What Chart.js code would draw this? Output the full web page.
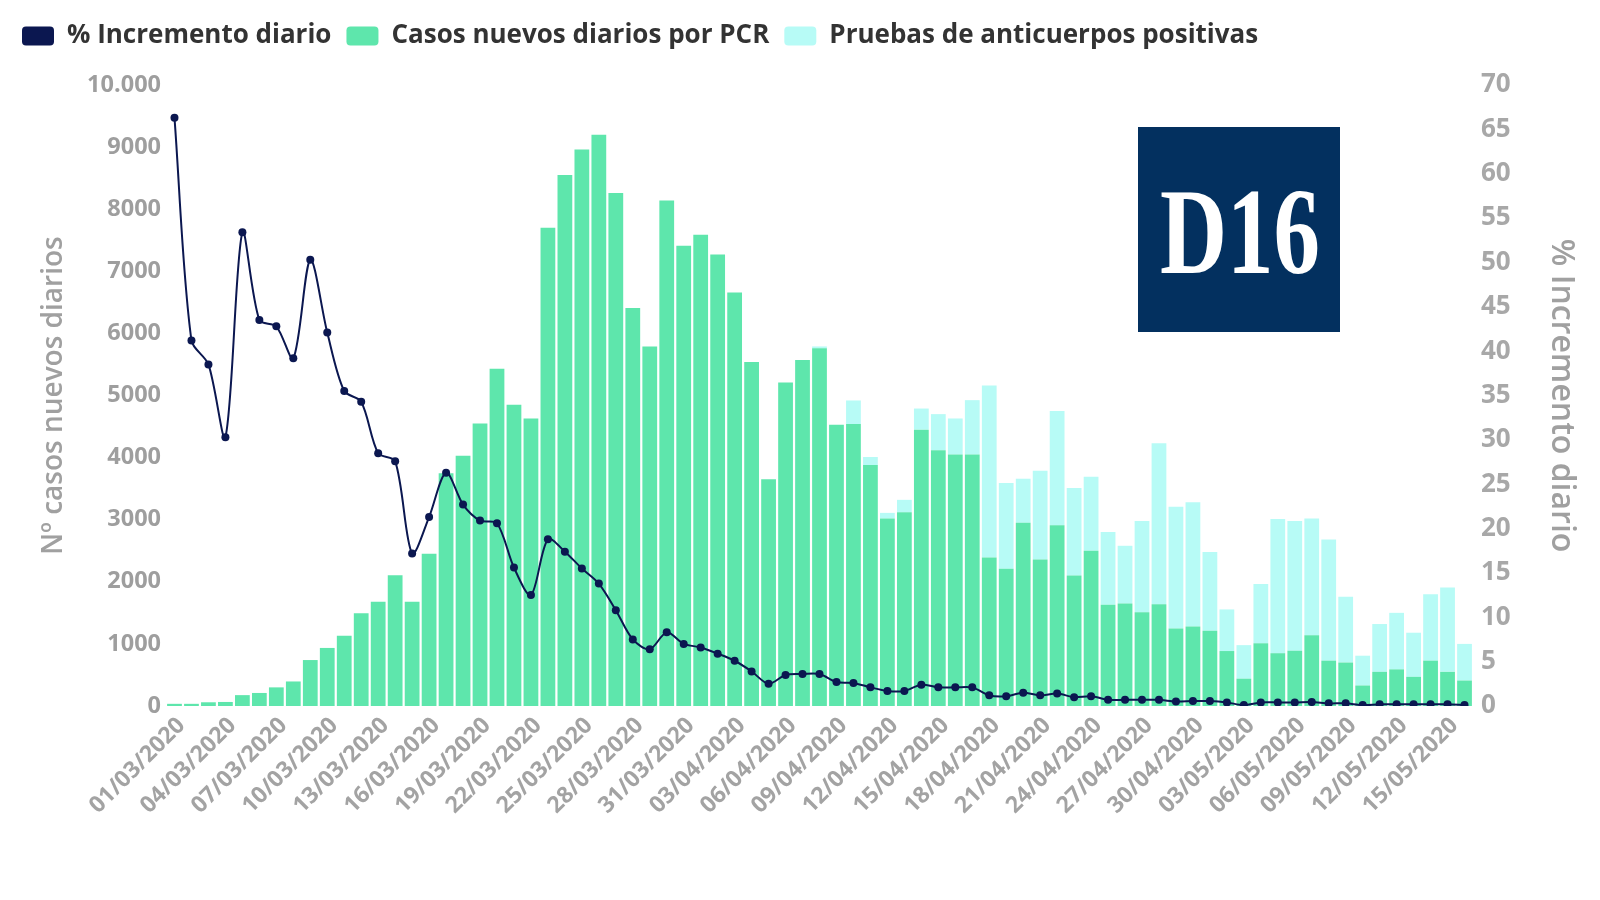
<!DOCTYPE html>
<html><head><meta charset="utf-8">
<script src="https://cdn.jsdelivr.net/npm/chart.js@4.4.1/dist/chart.umd.min.js"></script>
<style>html,body{margin:0;padding:0;background:#fff;}#wrap{width:1600px;height:900px;}</style>
</head><body><div id="wrap"><canvas id="c" width="1600" height="900"></canvas></div>
<script>
const dates = [
'01/03/2020','02/03/2020','03/03/2020','04/03/2020','05/03/2020','06/03/2020','07/03/2020','08/03/2020','09/03/2020','10/03/2020',
'11/03/2020','12/03/2020','13/03/2020','14/03/2020','15/03/2020','16/03/2020','17/03/2020','18/03/2020','19/03/2020','20/03/2020',
'21/03/2020','22/03/2020','23/03/2020','24/03/2020','25/03/2020','26/03/2020','27/03/2020','28/03/2020','29/03/2020','30/03/2020',
'31/03/2020','01/04/2020','02/04/2020','03/04/2020','04/04/2020','05/04/2020','06/04/2020','07/04/2020','08/04/2020','09/04/2020',
'10/04/2020','11/04/2020','12/04/2020','13/04/2020','14/04/2020','15/04/2020','16/04/2020','17/04/2020','18/04/2020','19/04/2020',
'20/04/2020','21/04/2020','22/04/2020','23/04/2020','24/04/2020','25/04/2020','26/04/2020','27/04/2020','28/04/2020','29/04/2020',
'30/04/2020','01/05/2020','02/05/2020','03/05/2020','04/05/2020','05/05/2020','06/05/2020','07/05/2020','08/05/2020','09/05/2020',
'10/05/2020','11/05/2020','12/05/2020','13/05/2020','14/05/2020','15/05/2020','16/05/2020'];

const pcrCases = [
35,35,60,65,175,210,300,395,740,935,
1130,1495,1680,2105,1680,2450,3750,4030,4550,5430,
4850,4630,7700,8550,8960,9200,8260,6410,5790,8140,
7410,7590,7270,6660,5540,3650,5210,5570,5760,4530,
4540,3880,3020,3120,4450,4120,4050,4050,2390,2210,
2950,2360,2910,2100,2500,1630,1650,1510,1640,1250,
1280,1210,885,440,1010,850,890,1140,730,700,
330,550,590,470,730,550,410];

const antibodyCases = [
0,0,0,0,0,0,0,0,0,0,
0,0,0,0,0,0,0,0,0,0,
0,0,0,0,0,0,0,0,0,0,
0,0,0,0,0,0,0,0,30,0,
380,130,90,200,340,580,580,875,2770,1380,
710,1430,1840,1410,1190,1170,930,1470,2590,1960,
2000,1270,670,540,955,2160,2090,1880,1950,1060,
480,770,910,710,1070,1360,590];

const dailyIncreasePct = [
66.3,41.2,38.5,30.3,53.4,43.5,42.8,39.2,50.3,42.1,
35.5,34.3,28.5,27.6,17.2,21.3,26.3,22.7,20.9,20.6,
15.6,12.5,18.8,17.4,15.5,13.8,10.8,7.5,6.4,8.3,
7.0,6.6,5.9,5.1,3.9,2.5,3.5,3.6,3.6,2.7,
2.6,2.1,1.7,1.7,2.4,2.1,2.1,2.1,1.2,1.1,
1.5,1.2,1.4,1.0,1.1,0.7,0.7,0.7,0.7,0.5,
0.55,0.55,0.4,0.1,0.4,0.4,0.4,0.45,0.3,0.3,
0.1,0.2,0.2,0.2,0.2,0.2,0.1];

const leftTickLabels = ['0','1000','2000','3000','4000','5000','6000','7000','8000','9000','10.000'];
const rightTickLabels = ['0','5','10','15','20','25','30','35','40','45','50','55','60','65','70'];
const seriesNames = ['% Incremento diario','Casos nuevos diarios por PCR','Pruebas de anticuerpos positivas'];
const axisTitles = ['Nº casos nuevos diarios','% Incremento diario'];
const logoText = 'D16';

const NAVY = '#0b1750', GREEN = '#5ee6ac', CYAN = '#b7fbf6';
const FONT = '"Open Sans", "Noto Sans", sans-serif';

const legendHeightPlugin = {
  id: 'legendHeight',
  beforeInit(chart) {
    const fit = chart.legend.fit;
    chart.legend.fit = function () { fit.call(this); this.height = 77; };
  }
};

const logoPlugin = {
  id: 'logo',
  afterDraw(chart) {
    const ctx = chart.ctx;
    ctx.save();
    ctx.fillStyle = '#03305f';
    ctx.fillRect(1138, 127, 202, 205);
    ctx.fillStyle = '#ffffff';
    ctx.font = 'bold 122px "Liberation Serif", "DejaVu Serif", serif';
    ctx.textBaseline = 'alphabetic';
    const w = ctx.measureText(logoText).width;
    const sx = 160 / w;
    ctx.translate(1160, 273);
    ctx.scale(sx, 1);
    ctx.fillText(logoText, 0, 0);
    ctx.restore();
  }
};

new Chart(document.getElementById('c'), {
  data: {
    labels: dates,
    datasets: [
      {
        type: 'line', label: seriesNames[0], data: dailyIncreasePct, yAxisID: 'y1', order: 0,
        borderColor: NAVY, backgroundColor: NAVY, borderWidth: 2, tension: 0.3,
        pointRadius: 4, pointBackgroundColor: NAVY, pointBorderWidth: 0
      },
      {
        type: 'bar', label: seriesNames[1], data: pcrCases, yAxisID: 'y', order: 1,
        backgroundColor: GREEN, barPercentage: 0.87, categoryPercentage: 1.0
      },
      {
        type: 'bar', label: seriesNames[2], data: antibodyCases, yAxisID: 'y', order: 2,
        backgroundColor: CYAN, barPercentage: 0.87, categoryPercentage: 1.0
      }
    ]
  },
  options: {
    responsive: false, animation: false, devicePixelRatio: 1,
    layout: { padding: { left: 7, top: 8, right: 0, bottom: 0 } },
    plugins: {
      tooltip: { enabled: false },
      legend: {
        position: 'top', align: 'start',
        labels: {
          boxWidth: 32, boxHeight: 19, padding: 15, useBorderRadius: true, borderRadius: 4,
          color: '#333333', font: { family: FONT, size: 26, weight: '700' },
          generateLabels(chart) {
            const items = Chart.defaults.plugins.legend.labels.generateLabels(chart);
            items.forEach(it => { it.lineWidth = 0; it.strokeStyle = it.fillStyle; });
            return items;
          }
        }
      }
    },
    scales: {
      x: {
        stacked: true, offset: true,
        grid: { display: false, drawTicks: false }, border: { display: false },
        afterFit(s) { s.height = 194; },
        ticks: {
          autoSkip: false, minRotation: 45, maxRotation: 45, padding: 6, labelOffset: 7,
          color: '#a3a3a3', font: { family: FONT, size: 23, weight: 'bold' },
          callback(v, i) { return i % 3 === 0 ? dates[i] : ''; }
        }
      },
      y: {
        stacked: true, position: 'left', min: 0, max: 10000,
        grid: { display: false, drawTicks: false }, border: { display: false },
        afterFit(s) { s.width = 159; },
        ticks: {
          stepSize: 1000, padding: 5, color: '#9e9e9e', font: { family: FONT, size: 23.5, weight: 'bold' },
          callback(v, i) { return leftTickLabels[i]; }
        },
        title: { display: true, text: axisTitles[0], color: '#a0a0a0', padding: { top: 30, bottom: 0 },
          font: { family: FONT, size: 28, weight: '600' } }
      },
      y1: {
        position: 'right', min: 0, max: 70,
        grid: { display: false, drawTicks: false }, border: { display: false },
        afterFit(s) { s.width = 127; },
        ticks: {
          stepSize: 5, padding: 8, color: '#a8a8a8', font: { family: FONT, size: 26, weight: 'bold' },
          callback(v, i) { return rightTickLabels[i]; }
        },
        title: { display: true, text: axisTitles[1], color: '#a0a0a0', padding: { top: 20, bottom: 0 },
          font: { family: FONT, size: 32, weight: '600' } }
      }
    }
  },
  plugins: [legendHeightPlugin, logoPlugin]
});
</script></body></html>
